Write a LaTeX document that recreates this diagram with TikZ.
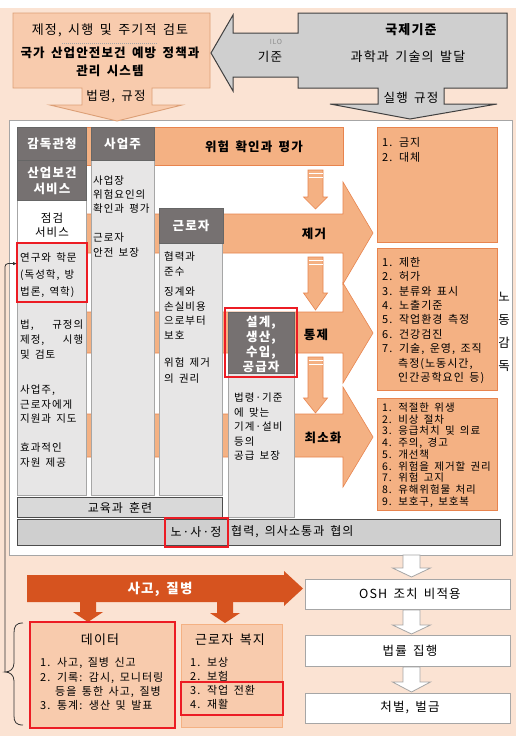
\documentclass[tikz,border=0pt]{standalone}
\usepackage{fontspec}
\setmainfont{Noto Sans CJK KR}[LetterSpace=9,WordSpace=1.6]
\usetikzlibrary{arrows.meta}
\definecolor{peach}{HTML}{FBE3D3}
\definecolor{lorange}{HTML}{F8CBAD}
\definecolor{morange}{HTML}{F4B183}
\definecolor{borange}{HTML}{E8844E}
\definecolor{dorange}{HTML}{D6531F}
\definecolor{dgray}{HTML}{767171}
\definecolor{lgray}{HTML}{E7E6E6}
\definecolor{mgray}{HTML}{A6A6A6}
\definecolor{cgray}{HTML}{CFCFCF}
\definecolor{bargray}{HTML}{D9D9D9}
\definecolor{redb}{HTML}{EC1C24}
\newcommand\bdarrow[7]{%
  \path[#7] (#1-#5,#2) -- (#1+#5,#2) -- (#1+#5,#3) -- (#1+#6,#3) -- (#1,#4) -- (#1-#6,#3) -- (#1-#5,#3) -- cycle;}
\begin{document}
\begin{tikzpicture}[x=1pt,y=-1pt,
  every node/.style={inner sep=0pt},
  txt/.style={font=\fontsize{10.5}{15}\selectfont, align=left, anchor=north west},
  hdrbox/.style={fill=dgray, draw=black!60, line width=0.6pt},
  bodybox/.style={fill=lgray, draw=mgray, line width=0.6pt},
  hdrtxt/.style={text=white, font=\bfseries\fontsize{12.5}{15}\selectfont, align=center},
  band/.style={fill=morange, draw=borange, line width=0.6pt},
  rbox/.style={fill=morange, draw=borange, line width=1pt},
  redframe/.style={draw=redb, line width=2.8pt},
  wbox/.style={fill=white, draw=mgray, line width=0.9pt},
  warrow/.style={fill=white, draw=mgray, line width=0.8pt},
  darrow/.style={fill=dorange},
  bandtxt/.style={font=\bfseries\fontsize{12.5}{15}\selectfont},
  midtxt/.style={font=\fontsize{12.5}{14}\selectfont},
  bartxt/.style={font=\fontsize{12}{14}\selectfont}
]
% background
\fill[white] (0,0) rectangle (516,736);
\fill[peach] (0,8) rectangle (516,736);

% main panel
\path[fill=white, draw=mgray, line width=1pt] (9,120) rectangle (512,555);

% top-left callout
\path[fill=lorange, draw=morange!90!black, line width=0.9pt]
  (13,13) -- (210,13) -- (210,88) -- (152,88) -- (152,105) -- (182,105) -- (117,121)
  -- (50,105) -- (82,105) -- (82,88) -- (13,88) -- cycle;
\node[font=\fontsize{13}{15}\selectfont] (review) at (110,30) {제정, 시행 및 주기적 검토};
\draw[dash pattern=on 1pt off 1pt, black!35] (62,43) -- (157,43);
\node[font=\bfseries\fontsize{12.5}{18}\selectfont, align=center] (natsys) at (110,62) {국가 산업안전보건 예방 정책과\\관리 시스템};
\node[midtxt] (lawreg) at (116,97) {법령, 규정};

% top-right gray callout
\path[fill=cgray, draw=black!75, line width=1pt]
  (298,13) -- (507,13) -- (507,88) -- (444,88) -- (444,104) -- (497,104) -- (410,119)
  -- (330,104) -- (378,104) -- (378,88) -- (298,88) -- (298,77) -- (233,77) -- (233,91)
  -- (211,53) -- (233,15) -- (233,33) -- (298,33) -- cycle;
\node[font=\bfseries\fontsize{13}{15}\selectfont] (intl) at (411,30) {국제기준};
\node[font=\fontsize{13}{15}\selectfont] (scitech) at (408,57) {과학과 기술의 발달};
\node[font=\fontsize{7}{8}\selectfont, text=black!45] (ilo) at (276,42) {ILO};
\node[font=\fontsize{12.5}{15}\selectfont] (ilostd) at (270,57) {기준};
\node[midtxt] (code) at (411,98) {실행 규정};

% orange bands
\path[band] (84,127) rectangle (343,165);
\node[bandtxt] (riskid) at (254,147) {위험 확인과 평가};
\path[band] (84,214) -- (343,214) -- (343,182) -- (373,233) -- (343,284) -- (343,253) -- (84,253) -- cycle;
\path[band] (84,312) -- (343,312) -- (343,283) -- (373,333) -- (343,383) -- (343,353) -- (84,353) -- cycle;
\path[band] (84,414) -- (343,414) -- (343,387) -- (373,437) -- (343,487) -- (343,457) -- (84,457) -- cycle;
\node[bandtxt] (elim) at (314,234) {제거};
\node[bandtxt] (ctrl) at (316,335) {통제};
\node[bandtxt] (minim) at (323,438) {최소화};

% small down arrows
\bdarrow{315.5}{170}{197}{209}{7.5}{12}{band}
\bdarrow{315.5}{257}{293}{310}{7.5}{12}{band}
\bdarrow{315.5}{357}{398}{413}{7.5}{12}{band}
\foreach \yy in {170,257,357}{
  \draw[white, line width=0.8pt] (308.5,\yy+3.5) -- (322.5,\yy+3.5) (308.5,\yy+7) -- (322.5,\yy+7);
}

% column 1
\path[bodybox] (17,200) rectangle (86,495);
\path[fill=white, draw=mgray, line width=0.6pt] (17,200) rectangle (86,243);
\path[hdrbox] (17,127) rectangle (86,160);
\path[hdrbox] (17,160) rectangle (86,200);
\node[hdrtxt] (gov) at (52,144) {감독관청};
\node[hdrtxt, font=\bfseries\fontsize{12.5}{16}\selectfont] (ohs) at (52,181) {산업보건\\서비스};
\node[font=\fontsize{11.5}{14}\selectfont, align=center] (insp) at (52,225) {점검\\서비스};
\node[txt, font=\fontsize{10.5}{17}\selectfont] (research) at (20,253) {연구와 학문\\(독성학, 방\\법론, 역학)};
\path[redframe] (17,243) rectangle (87,302);
\node[txt] (lawtxt) at (20,320) {\makebox[63pt][s]{법, 규정의}\\\makebox[63pt][s]{제정, 시행}\\및 검토};
\node[txt, font=\fontsize{10.5}{14.5}\selectfont] (support) at (20,385) {사업주,\\근로자에게\\지원과 지도};
\node[txt] (resource) at (20,443) {효과적인\\자원 제공};

% column 2
\path[bodybox] (91,160) rectangle (154,495);
\path[hdrbox] (91,127) rectangle (154,160);
\node[hdrtxt] (empl) at (122.5,144) {사업주};
\node[txt, font=\fontsize{10.5}{14}\selectfont] (emp1) at (93,176) {사업장\\위험요인의\\확인과 평가};
\node[txt] (emp2) at (93,233) {근로자\\안전 보장};

% column 3
\path[bodybox] (159,243) rectangle (222,495);
\path[hdrbox] (159,208) rectangle (223,243);
\node[hdrtxt] (work) at (191,226) {근로자};
\node[txt] (wk1) at (164,252) {협력과\\준수};
\node[txt, font=\fontsize{10.5}{14.5}\selectfont] (wk2) at (164,287) {징계와\\손실비용\\으로부터\\보호};
\node[txt, font=\fontsize{10.5}{16}\selectfont] (wk3) at (164,358) {위험 제거\\의 권리};

% column 4
\path[bodybox] (228,373) rectangle (294,517);
\path[hdrbox] (228,312) rectangle (294,373);
\node[hdrtxt] (supp) at (261,344.5) {설계,\\생산,\\수입,\\공급자};
\path[redframe] (225,308) rectangle (297,377);
\node[txt, font=\fontsize{10.5}{14.5}\selectfont] (sp1) at (234,393) {법령·기준\\에 맞는\\기계·설비\\등의\\공급 보장};

% bars
\path[fill=bargray, draw=black!70, line width=0.8pt] (17,497) rectangle (222,517);
\node[bartxt] (edu) at (120,507.5) {교육과 훈련};
\path[fill=cgray, draw=black!70, line width=0.8pt] (17,519) rectangle (500,545);
\node[bartxt] (tri) at (196,532) {노·사·정};
\node[bartxt, anchor=west] (coop) at (231,532) {협력, 의사소통과 협의};
\path[redframe] (165,518) rectangle (228,547);

% right boxes
\path[rbox] (377,127) rectangle (497,242);
\node[txt, font=\fontsize{11}{15}\selectfont] (ra) at (382,137) {1. 금지\\2. 대체};
\path[rbox] (377,248) rectangle (497,390);
\node[txt, font=\fontsize{11}{14.4}\selectfont] (rb) at (382,257) {1. 제한\\2. 허가\\3. 분류와 표시\\4. 노출기준\\5. 작업환경 측정\\6. 건강검진\\7. 기술, 운영, 조직\\\hspace*{16pt}측정(노동시간,\\\hspace*{16pt}인간공학요인 등)};
\path[rbox] (377,398) rectangle (497,510);
\node[txt, font=\fontsize{10.5}{11.75}\selectfont] (rc) at (382,402.5) {1. 적절한 위생\\2. 비상 절차\\3. 응급처치 및 의료\\4. 주의, 경고\\5. 개선책\\6. 위험을 제거할 권리\\7. 위험 고지\\8. 유해위험물 처리\\9. 보호구, 보호복};
\node[font=\fontsize{12.5}{14}\selectfont] (lab1) at (504,297) {노};
\node[font=\fontsize{12.5}{14}\selectfont] (lab2) at (504,320) {동};
\node[font=\fontsize{12.5}{14}\selectfont] (lab3) at (504,343) {감};
\node[font=\fontsize{12.5}{14}\selectfont] (lab4) at (504,366) {독};

% bottom: accidents arrow
\path[darrow] (27,575) -- (284,575) -- (284,571) -- (303,588.5) -- (284,606) -- (284,602) -- (27,602) -- cycle;
\node[font=\bfseries\fontsize{13.5}{15}\selectfont, text=white] (acc) at (160,589) {사고, 질병};
\bdarrow{88}{601}{612}{622}{8}{15}{darrow}
\bdarrow{225}{601}{613}{623}{8}{15}{darrow}

% data box
\path[fill=lorange] (30,622) rectangle (175,728);
\path[redframe] (30,622) rectangle (175,728);
\node[font=\fontsize{13}{14}\selectfont] (data) at (100,640) {데이터};
\node[txt, font=\fontsize{11}{14.3}\selectfont] (datal) at (40,657.5) {1. 사고, 질병 신고\\2. 기록: 감시, 모니터링\\\hspace*{15pt}등을 통한 사고, 질병\\3. 통계: 생산 및 발표};

% welfare box
\path[fill=lorange, draw=morange, line width=1pt] (181,624) rectangle (282,727);
\node[font=\fontsize{13}{14}\selectfont] (welf) at (230,640) {근로자 복지};
\node[txt, font=\fontsize{11}{14}\selectfont] (welfl) at (190,657.5) {1. 보상\\2. 보험\\3. 작업 전환\\4. 재활};
\path[redframe] (181,682) rectangle (283,715);

% right flow boxes
\bdarrow{411.5}{555}{568}{577}{8.5}{19}{warrow}
\path[wbox] (305,579) rectangle (510,609);
\node[font=\fontsize{12.5}{14}\selectfont] (osh) at (410,594) {OSH 조치 비적용};
\bdarrow{411.5}{610}{625}{634}{8.5}{19}{warrow}
\path[wbox] (305,635) rectangle (510,666);
\node[font=\fontsize{12.5}{14}\selectfont] (enf) at (410,651) {법률 집행};
\bdarrow{411.5}{667}{682}{692}{8.5}{19}{warrow}
\path[wbox] (305,693) rectangle (510,723);
\node[font=\fontsize{12.5}{14}\selectfont] (pen) at (410,708) {처벌, 벌금};

% brace and feedback connector
\draw[black!80, line width=0.8pt] (23,623) .. controls (16,623) and (14,626) .. (14,633) -- (14,663)
  .. controls (14,669) and (10,672) .. (5,672) .. controls (10,672) and (14,675) .. (14,681)
  -- (14,716) .. controls (14,722) and (16,725) .. (23,725);
\coordinate (bracetip) at (5,672);
\draw[black!80, line width=0.8pt, rounded corners=3pt, -{Latex[length=4pt,width=3.5pt]}]
  (bracetip) |- ([yshift=12pt,xshift=-3pt]research.west);
\end{tikzpicture}
\end{document}
